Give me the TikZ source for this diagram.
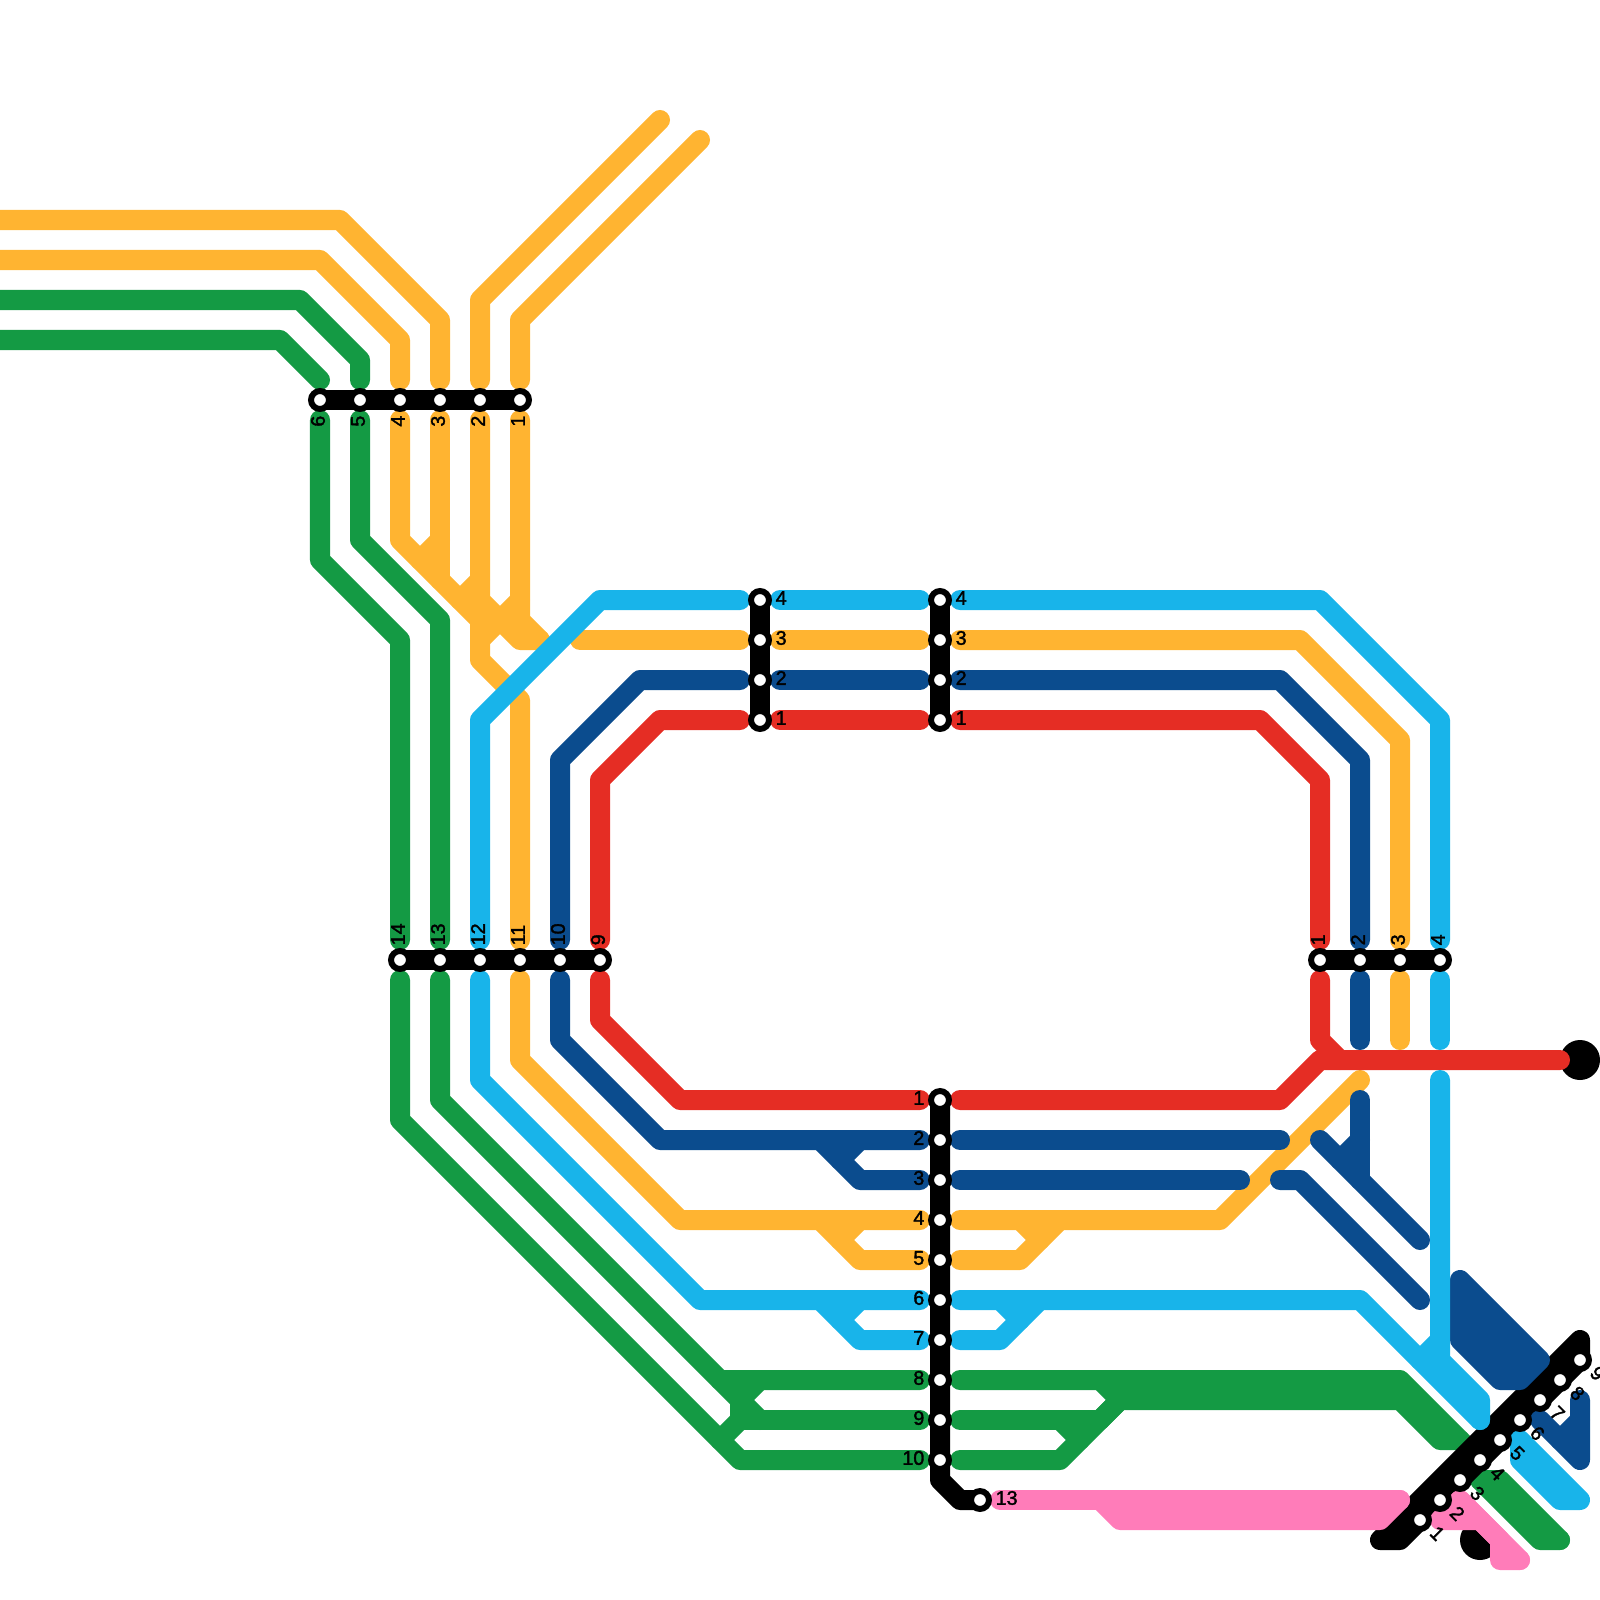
\documentclass[tikz,border=0pt]{standalone}
\usepackage{fontspec}
\setmainfont{Liberation Sans}
\newfontfamily\labfont{Liberation Sans}[FakeBold=1.7]
\usetikzlibrary{calc}
\definecolor{cred}{HTML}{E52D24}
\definecolor{cyel}{HTML}{FFB431}
\definecolor{cgrn}{HTML}{149A44}
\definecolor{cnav}{HTML}{0B4C8E}
\definecolor{ccya}{HTML}{18B4EA}
\definecolor{cpnk}{HTML}{FF7CB9}
\tikzset{
  metro/.style={line width=5.69pt,line cap=round,line join=round},
  stn/.style={circle,draw=black,fill=white,line width=1.7pt,minimum size=5.1pt,inner sep=0pt},
  lab/.style={font=\labfont\fontsize{5.6pt}{5.6pt}\selectfont,inner sep=0pt,text=black},
}
\begin{document}
\begin{tikzpicture}[x=0.01cm,y=-0.01cm]
\clip (0,0) rectangle (1600,1600);
\useasboundingbox (0,0) rectangle (1600,1600);
% terminals
\fill[black] (1580,1060) circle (20);
\fill[black] (1480,1540) circle (20);
% green (under the diagonal bar)
\begin{scope}[metro,draw=cgrn]
\draw (-20,300)--(300,300)--(360,360)--(360,380);
\draw (-20,340)--(280,340)--(320,380);
\draw (320,420)--(320,560)--(400,640)--(400,940);
\draw (360,420)--(360,540)--(440,620)--(440,940);
\draw (400,980)--(400,1120)--(740,1460)--(920,1460);
\draw (440,980)--(440,1100)--(720,1380)--(920,1380);
\draw (720,1380)--(760,1420);
\draw (740,1420)--(920,1420);
\draw (760,1380)--(740,1400)--(740,1420)--(720,1440);
\draw (960,1380)--(1400,1380)--(1480,1460);
\draw (1100,1380)--(1120,1400)--(1100,1420);
\draw (960,1420)--(1100,1420);
\draw (1060,1420)--(1080,1440);
\draw (960,1460)--(1060,1460)--(1120,1400)--(1400,1400)--(1440,1440)--(1460,1440);
\draw (1480,1480)--(1540,1540)--(1560,1540);
\draw (1480,1480)--(1500,1480)--(1560,1540);
\end{scope}
% station bars
\begin{scope}[metro,draw=black]
\draw (320,400)--(520,400);
\draw (400,960)--(600,960);
\draw (1320,960)--(1440,960);
\draw (760,600)--(760,720);
\draw (940,600)--(940,720);
\draw (940,1100)--(940,1480)--(960,1500)--(980,1500);
\draw (1380,1540)--(1580,1340)--(1580,1360)--(1400,1540)--cycle;
\end{scope}
% yellow
\begin{scope}[metro,draw=cyel]
\draw (-20,220)--(340,220)--(440,320)--(440,380);
\draw (-20,260)--(320,260)--(400,340)--(400,380);
\draw (660,120)--(480,300)--(480,380);
\draw (700,140)--(520,320)--(520,380);
\draw (400,420)--(400,540)--(480,620)--(480,660)--(520,700)--(520,940);
\draw (440,420)--(440,580);
\draw (440,540)--(420,560);
\draw (480,420)--(480,600)--(520,640)--(540,640);
\draw (480,580)--(460,600);
\draw (520,420)--(520,620)--(540,640);
\draw (520,600)--(480,640);
\draw (580,640)--(740,640);
\draw (780,640)--(920,640);
\draw (960,640)--(1300,640)--(1400,740)--(1400,940);
\draw (1400,980)--(1400,1040);
\draw (520,980)--(520,1060)--(680,1220)--(920,1220);
\draw (820,1220)--(860,1260)--(920,1260);
\draw (860,1220)--(840,1240);
\draw (960,1220)--(1220,1220)--(1360,1080);
\draw (1020,1220)--(1040,1240);
\draw (960,1260)--(1020,1260)--(1060,1220);
\end{scope}
% dark blue
\begin{scope}[metro,draw=cnav]
\draw (740,680)--(640,680)--(560,760)--(560,940);
\draw (780,680)--(920,680);
\draw (960,680)--(1280,680)--(1360,760)--(1360,940);
\draw (1360,980)--(1360,1040);
\draw (560,980)--(560,1040)--(660,1140)--(920,1140);
\draw (820,1140)--(860,1180)--(920,1180);
\draw (860,1140)--(840,1160);
\draw (960,1140)--(1280,1140);
\draw (960,1180)--(1240,1180);
\draw (1280,1180)--(1300,1180)--(1420,1300);
\draw (1320,1140)--(1420,1240);
\draw (1360,1100)--(1360,1180);
\draw (1360,1140)--(1340,1160);
\draw[fill=cnav] (1460,1280)--(1540,1360)--(1520,1380)--(1500,1380)--(1460,1340)--cycle;
\draw (1540,1420)--(1580,1460)--(1580,1400);
\draw (1580,1420)--(1560,1440);
\end{scope}
% red
\begin{scope}[metro,draw=cred]
\draw (740,720)--(660,720)--(600,780)--(600,940);
\draw (780,720)--(920,720);
\draw (960,720)--(1260,720)--(1320,780)--(1320,940);
\draw (600,980)--(600,1020)--(680,1100)--(920,1100);
\draw (960,1100)--(1280,1100)--(1320,1060)--(1560,1060);
\draw (1320,980)--(1320,1040)--(1340,1060);
\end{scope}
% light blue
\begin{scope}[metro,draw=ccya]
\draw (740,600)--(600,600)--(480,720)--(480,940);
\draw (780,600)--(920,600);
\draw (960,600)--(1320,600)--(1440,720)--(1440,940);
\draw (1440,980)--(1440,1040);
\draw (480,980)--(480,1080)--(700,1300)--(920,1300);
\draw (820,1300)--(860,1340)--(920,1340);
\draw (860,1300)--(840,1320);
\draw (960,1300)--(1360,1300)--(1480,1420);
\draw (1000,1300)--(1020,1320);
\draw (960,1340)--(1000,1340)--(1040,1300);
\draw (1440,1080)--(1440,1360)--(1480,1400)--(1480,1420);
\draw (1440,1340)--(1420,1360);
\draw (1520,1440)--(1580,1500)--(1560,1500)--(1520,1460)--cycle;
\end{scope}
% pink
\begin{scope}[metro,draw=cpnk]
\draw (1000,1500)--(1400,1500);
\draw (1100,1500)--(1120,1520)--(1380,1520)--(1400,1500);
\draw[fill=cpnk] (1440,1520)--(1460,1500)--(1480,1520)--cycle;
\draw (1460,1500)--(1520,1560);
\draw (1480,1520)--(1500,1540)--(1500,1560)--(1520,1560);
\end{scope}
% stations and labels
\foreach \n/\x in {6/320,5/360,4/400,3/440,2/480,1/520}{
  \node[stn] (t\n) at (\x,400) {};
  \node[lab,rotate=90,anchor=east] at (\x-2,415) {\n};
}
\foreach \n/\x in {14/400,13/440,12/480,11/520,10/560,9/600}{
  \node[stn] (m\n) at (\x,960) {};
  \node[lab,rotate=90,anchor=west] at (\x-2,946) {\n};
}
\foreach \n/\x in {1/1320,2/1360,3/1400,4/1440}{
  \node[stn] (r\n) at (\x,960) {};
  \node[lab,rotate=90,anchor=west] at (\x-2,946) {\n};
}
\foreach \n/\y in {4/600,3/640,2/680,1/720}{
  \node[stn] (a\n) at (760,\y) {};
  \node[lab,anchor=west] at (775,\y-2) {\n};
  \node[stn] (b\n) at (940,\y) {};
  \node[lab,anchor=west] at (955,\y-2) {\n};
}
\foreach \n/\y in {1/1100,2/1140,3/1180,4/1220,5/1260,6/1300,7/1340,8/1380,9/1420,10/1460}{
  \node[stn] (c\n) at (940,\y) {};
  \node[lab,anchor=east] at (925,\y-2) {\n};
}
\node[stn] (c13) at (980,1500) {};
\node[lab,anchor=west] at (995,1498) {13};
\foreach \n/\x/\y in {1/1420/1520,2/1440/1500,3/1460/1480,4/1480/1460,5/1500/1440,6/1520/1420,7/1540/1400,8/1560/1380,9/1580/1360}{
  \node[stn] (d\n) at (\x,\y) {};
  \node[lab,rotate=-45,anchor=west] at ($(\x,\y)+(13,9)$) {\n};
}
\end{tikzpicture}
\end{document}
